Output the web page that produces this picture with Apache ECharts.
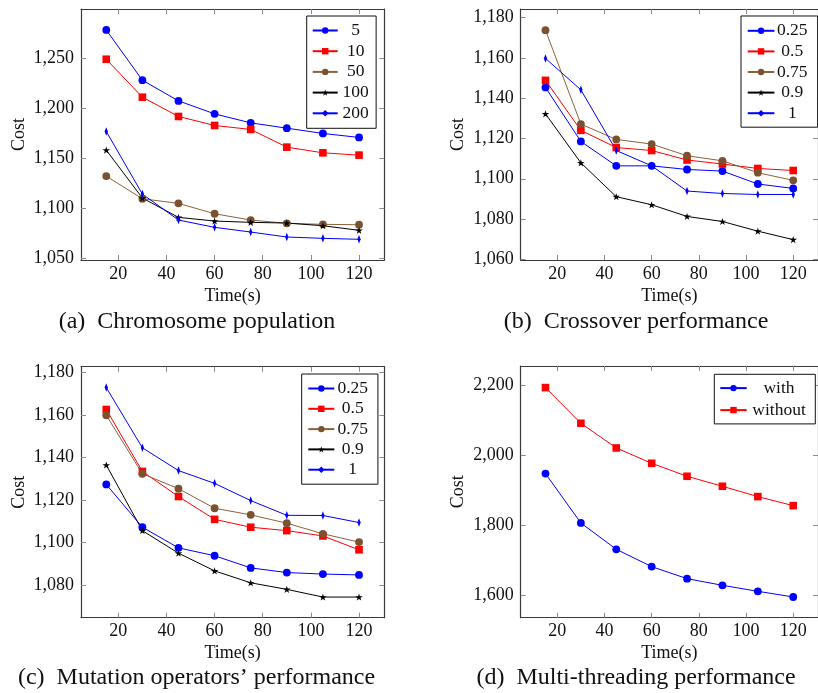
<!DOCTYPE html>
<html>
<head>
<meta charset="utf-8">
<script src="https://cdn.jsdelivr.net/npm/echarts@6/dist/echarts.min.js"></script>
<style>
html,body{margin:0;padding:0;background:#fff;}
#c{width:818px;height:693px;}
</style>
</head>
<body>
<div id="c"></div>
<script>
// ---------- data ----------
var times = [15, 30, 45, 60, 75, 90, 105, 120];

// (a) Chromosome population
var popNames = ['5', '10', '50', '100', '200'];
var pop5   = [1278.3, 1228, 1207.3, 1194.3, 1185.3, 1180, 1174.7, 1170.7];
var pop10  = [1249, 1211, 1191.7, 1182.7, 1178.7, 1161, 1155.3, 1153];
var pop50  = [1132, 1109.3, 1104.7, 1094.3, 1088, 1084.7, 1083.7, 1083.3];
var pop100 = [1158, 1110, 1090.7, 1087, 1085.7, 1085, 1082.3, 1077.7];
var pop200 = [1176.7, 1114, 1088, 1080.7, 1076, 1071, 1069.7, 1068.7];

// (b) Crossover performance
var rateNames = ['0.25', '0.5', '0.75', '0.9', '1'];
var cx025 = [1145.3, 1118.5, 1106.4, 1106.4, 1104.6, 1103.8, 1097.4, 1095.2];
var cx05  = [1148.8, 1124, 1115.5, 1114, 1109.3, 1107.3, 1105.1, 1104.1];
var cx075 = [1173.7, 1127.1, 1119.5, 1117.2, 1111.4, 1108.9, 1103, 1099.2];
var cx09  = [1132.2, 1107.9, 1091.1, 1087.1, 1081.3, 1078.8, 1074, 1069.8];
var cx1   = [1159.7, 1144.1, 1114, 1106.4, 1093.9, 1092.7, 1092.2, 1092.2];

// (c) Mutation operators' performance
var mu025 = [1127.3, 1107.2, 1097.5, 1093.8, 1088.1, 1085.9, 1085.2, 1084.8];
var mu05  = [1162.5, 1133.4, 1121.6, 1110.9, 1107.2, 1105.6, 1103.1, 1096.6];
var mu075 = [1159.8, 1132.3, 1125.3, 1116.1, 1113, 1109.1, 1104.1, 1100.2];
var mu09  = [1136.4, 1105.6, 1095, 1086.7, 1081.1, 1078, 1074.4, 1074.4];
var mu1   = [1172.8, 1144.5, 1133.8, 1127.8, 1119.7, 1112.8, 1112.7, 1109.4];

// (d) Multi-threading performance
var mtNames = ['with', 'without'];
var mtWith    = [1948.6, 1807.6, 1732.4, 1682.9, 1648.6, 1629.5, 1612.4, 1596.2];
var mtWithout = [2194.3, 2092.4, 2021.9, 1978.1, 1941, 1912.4, 1882.9, 1857.1];

// tick labels
var xTicks  = [20, 40, 60, 80, 100, 120];
var yTicksA = [1050, 1100, 1150, 1200, 1250];
var yTicksB = [1060, 1080, 1100, 1120, 1140, 1160, 1180];
var yTicksC = [1080, 1100, 1120, 1140, 1160, 1180];
var yTicksD = [1600, 1800, 2000, 2200];

var captions = ['(a)  Chromosome population', '(b)  Crossover performance',
                '(c)  Mutation operators\u2019 performance', '(d)  Multi-threading performance'];
var xName = 'Time(s)';
var yName = 'Cost';

// ---------- styles ----------
var FONT = 'Liberation Serif';
var STAR = 'path://M0,-1 L0.223,-0.307 L0.951,-0.309 L0.361,0.117 L0.588,0.809 L0,0.38 L-0.588,0.809 L-0.361,0.117 L-0.951,-0.309 L-0.223,-0.307 Z';
var THIN_DIAMOND = 'path://M0,-5 L3,0 L0,5 L-3,0 Z';
var styles = [
  {line: '#0000ff', fill: '#0000ff', symbol: 'circle', size: 7.8},
  {line: '#ff0000', fill: '#ff0000', symbol: 'rect', size: 7.6},
  {line: '#8c6239', fill: '#7a5230', symbol: 'circle', size: 7.8},
  {line: '#000000', fill: '#000000', symbol: STAR, size: 7.5},
  {line: '#0000ff', fill: '#0000ff', symbol: THIN_DIAMOND, size: [5.5, 8.5]}
];

var grids = [
  {left: 81, top: 9, width: 303.3, height: 251},
  {left: 520.7, top: 9, width: 303.9, height: 251},
  {left: 81, top: 366.7, width: 303.3, height: 251},
  {left: 520.7, top: 366, width: 303.9, height: 251.7}
];
var yRanges = [[1048, 1299.3], [1059.7, 1184.2], [1064.7, 1182.6], [1537, 2256]];
var yTickSets = [yTicksA, yTicksB, yTicksC, yTicksD];

var axisLineStyle = {color: '#3a3a3a', width: 1.2};
var tickStyle = {color: '#8a8a8a', width: 1};
var labelStyle = {fontSize: 18, fontFamily: FONT, color: '#111'};

var xAxes = [], yAxes = [];
grids.forEach(function (g, i) {
  xAxes.push({
    type: 'value', gridIndex: i, position: 'bottom', min: 4.5, max: 130.5,
    axisLine: {show: true, onZero: false, lineStyle: axisLineStyle},
    axisTick: {show: true, inside: true, length: 5, customValues: xTicks, lineStyle: tickStyle},
    axisLabel: Object.assign({customValues: xTicks, margin: 5}, labelStyle),
    splitLine: {show: false},
    name: xName, nameLocation: 'middle', nameGap: 27,
    nameTextStyle: {fontSize: 18, fontFamily: FONT, color: '#111'}
  });
  xAxes.push({
    type: 'value', gridIndex: i, position: 'top', min: 4.5, max: 130.5,
    axisLine: {show: true, onZero: false, lineStyle: axisLineStyle},
    axisTick: {show: true, inside: true, length: 5, customValues: xTicks, lineStyle: tickStyle},
    axisLabel: {show: false}, splitLine: {show: false}
  });
  yAxes.push({
    type: 'value', gridIndex: i, position: 'left', min: yRanges[i][0], max: yRanges[i][1],
    axisLine: {show: true, onZero: false, lineStyle: axisLineStyle},
    axisTick: {show: true, inside: true, length: 5, customValues: yTickSets[i], lineStyle: tickStyle},
    axisLabel: Object.assign({customValues: yTickSets[i], margin: 7,
      formatter: function (v) { return Number(v).toLocaleString('en-US'); }}, labelStyle),
    splitLine: {show: false},
    name: yName, nameLocation: 'middle', nameGap: 53,
    nameTextStyle: {fontSize: 18, fontFamily: FONT, color: '#111'}
  });
  yAxes.push({
    type: 'value', gridIndex: i, position: 'right', min: yRanges[i][0], max: yRanges[i][1],
    axisLine: {show: true, onZero: false, lineStyle: axisLineStyle},
    axisTick: {show: true, inside: true, length: 5, customValues: yTickSets[i], lineStyle: tickStyle},
    axisLabel: {show: false}, splitLine: {show: false}
  });
});

function pairs(vals) {
  return times.map(function (t, k) { return [t, vals[k]]; });
}
function mkSeries(name, vals, styleIdx, panel) {
  var s = styles[styleIdx];
  return {
    type: 'line', name: name, xAxisIndex: panel * 2, yAxisIndex: panel * 2,
    data: pairs(vals), symbol: s.symbol, symbolSize: s.size, symbolKeepAspect: true,
    showSymbol: true, showAllSymbol: true,
    lineStyle: {color: s.line, width: 1},
    itemStyle: {color: s.fill, borderWidth: 0},
    emphasis: {disabled: true}, animation: false
  };
}

var series = [];
[pop5, pop10, pop50, pop100, pop200].forEach(function (v, k) { series.push(mkSeries(popNames[k], v, k, 0)); });
[cx025, cx05, cx075, cx09, cx1].forEach(function (v, k) { series.push(mkSeries(rateNames[k], v, k, 1)); });
[mu025, mu05, mu075, mu09, mu1].forEach(function (v, k) { series.push(mkSeries(rateNames[k], v, k, 2)); });
[mtWith, mtWithout].forEach(function (v, k) { series.push(mkSeries(mtNames[k], v, k, 3)); });

function mkLegend(names, left, top, padding, itemWidth, textW, gap) {
  return {
    data: names, orient: 'vertical', left: left, top: top, padding: padding,
    itemWidth: itemWidth, itemHeight: 8, itemGap: gap, selectedMode: false,
    borderColor: '#111', borderWidth: 1, backgroundColor: '#fff', borderRadius: 0,
    formatter: function (n) { return '{t|' + n + '}'; },
    textStyle: {fontSize: 17.5, fontFamily: FONT, color: '#111', lineHeight: 17,
      rich: {t: {width: textW, align: 'center', fontSize: 17.5, fontFamily: FONT, lineHeight: 17}}}
  };
}

var legends = [
  mkLegend(popNames, 306.7, 16, [5.5, 7.3, 6, 5], 25, 26, 2.7),
  mkLegend(rateNames, 741, 16, [5.8, 10, 5, 5.7], 26.7, 25.8, 2.6),
  mkLegend(rateNames, 301.7, 374, [5.5, 9.9, 5.5, 5.6], 26, 26.8, 2.3),
  mkLegend(mtNames, 714.3, 374.3, [4.8, 9, 4.8, 5], 26.4, 54.6, 4)
];

var capPos = [[197, 322], [636, 322], [196.5, 678], [636, 678]];
var titles = captions.map(function (c, i) {
  return {text: c, left: capPos[i][0], top: capPos[i][1], textAlign: 'center', textVerticalAlign: 'middle',
    padding: 0, textStyle: {fontSize: 24, fontFamily: FONT, fontWeight: 'normal', color: '#111'}};
});

var chart = echarts.init(document.getElementById('c'), null, {renderer: 'canvas'});
chart.setOption({
  animation: false,
  backgroundColor: '#fff',
  title: titles,
  grid: grids,
  xAxis: xAxes,
  yAxis: yAxes,
  legend: legends,
  series: series
});
</script>
</body>
</html>
